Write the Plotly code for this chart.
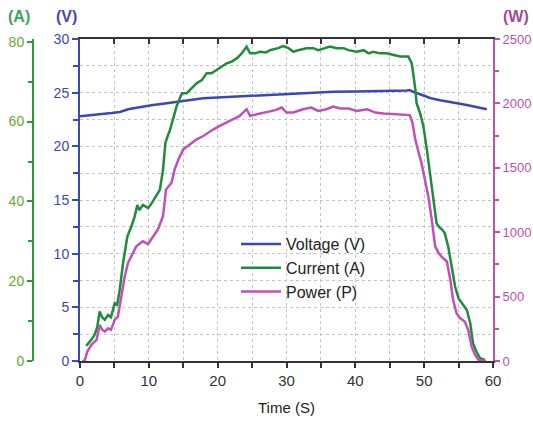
import plotly.graph_objects as go

# ---- data ----
t_voltage = [0, 1.8, 3.5, 4.6, 5.8, 7.0, 8.2, 9.4, 10.6, 11.8, 13.1, 14.0, 16.0, 17.9, 20.0,
             22.8, 25.0, 27.4, 29.5, 31.7, 34.0, 36.8, 40.0, 43.0, 45.0, 47.0, 47.5, 47.9,
             48.5, 49.4, 50.85, 52.3, 53.8, 55.0, 56.2, 57.6, 59.1]
voltage = [22.8, 22.9, 23.0, 23.1, 23.2, 23.45, 23.6, 23.75, 23.85, 23.95, 24.07, 24.15, 24.3,
           24.47, 24.55, 24.63, 24.7, 24.78, 24.85, 24.94, 25.0, 25.09, 25.1, 25.12, 25.13,
           25.15, 25.2, 25.25, 25.05, 24.85, 24.5, 24.3, 24.16, 24.0, 23.85, 23.65, 23.45]

t_current = [0.9, 1.3, 1.65, 2.1, 2.5, 2.86, 3.2, 3.6, 4.07, 4.5, 5.04, 5.4, 5.77, 6.25, 6.88,
             7.46, 7.94, 8.33, 8.6, 9.15, 9.88, 10.4, 11.1, 11.6, 12.06, 12.4, 12.7, 13.0, 13.5,
             14.0, 14.8, 15.5, 16.2, 16.95, 17.7, 18.4, 19.1, 19.9, 20.6, 21.3, 22.0, 22.8, 23.5,
             24.2, 24.7, 25.4, 26.15, 27.0, 27.6, 28.8, 29.5, 30.3, 31.0, 31.7, 32.9, 33.9, 34.6,
             35.6, 36.3, 37.3, 38.3, 39.0, 40.2, 41.2, 41.9, 42.6, 43.6, 44.5, 45.5, 46.5, 47.7,
             48.2, 48.7, 48.9, 49.4, 49.9, 50.4, 50.85, 51.3, 51.8, 52.3, 52.6, 53.0, 53.5, 54.0,
             54.5, 55.0, 55.7, 56.2, 56.7, 57.1, 57.6, 58.1, 58.8]
current = [3.8, 4.6, 5.3, 6.5, 8.5, 12.4, 11.0, 10.3, 11.5, 11.0, 14.5, 14.1, 17.8, 24.5, 31.2,
           33.7, 36.2, 39.1, 37.8, 39.1, 38.3, 39.5, 41.6, 42.9, 47.9, 54.6, 56.2, 57.5, 60.5,
           63.7, 67.1, 67.1, 68.3, 69.6, 70.4, 72.1, 72.1, 72.9, 73.8, 74.6, 75.0, 75.9, 77.1,
           78.8, 77.1, 77.1, 77.5, 77.3, 77.9, 78.4, 78.9, 78.4, 77.5, 77.9, 78.4, 78.4, 77.9,
           78.4, 78.8, 78.4, 78.4, 77.9, 77.5, 77.9, 77.1, 77.5, 77.1, 77.1, 76.7, 76.3, 76.3,
           74.6, 68.3, 64.6, 62.1, 58.7, 52.9, 47.0, 40.4, 34.5, 33.3, 33.0, 32.0, 28.6, 23.6,
           18.6, 15.7, 14.0, 12.8, 9.4, 4.4, 2.3, 0.7, 0.3]

t_power = [0.3, 0.6, 0.7, 1.06, 1.65, 2.4, 2.86, 3.2, 3.6, 4.07, 4.5, 5.04, 5.5, 6.0, 6.5, 6.97,
           7.7, 8.18, 8.6, 9.15, 9.88, 10.6, 11.3, 12.06, 12.5, 13.3, 13.75, 14.3, 15.0, 16.0,
           16.95, 17.9, 18.6, 19.4, 20.3, 21.3, 22.3, 23.2, 24.2, 24.7, 25.7, 26.6, 27.6, 28.5,
           29.3, 30.0, 31.0, 32.4, 33.6, 34.6, 35.8, 36.8, 37.8, 39.0, 40.2, 41.7, 42.9, 44.1,
           45.5, 47.0, 47.9, 48.3, 48.7, 49.2, 49.6, 50.1, 50.6, 51.1, 51.6, 52.1, 52.7, 53.3,
           53.8, 54.2, 54.7, 55.2, 55.9, 56.4, 56.9, 57.4, 57.9, 59.0]
power = [0, 0, 8, 72, 125, 164, 280, 245, 228, 254, 242, 319, 345, 501, 657, 761,
         839, 890, 908, 929, 908, 968, 1020, 1124, 1332, 1384, 1488, 1565, 1643, 1682,
         1721, 1747, 1773, 1799, 1825, 1851, 1877, 1903, 1955, 1903, 1916, 1929, 1938, 1950,
         1968, 1929, 1929, 1955, 1968, 1942, 1955, 1976, 1960, 1960, 1942, 1955, 1929, 1922,
         1916, 1909, 1909, 1851, 1721, 1617, 1540, 1410, 1280, 1098, 890, 839, 800, 773,
         631, 475, 371, 333, 306, 241, 111, 47, 8, 0]

x_ticks = [0, 10, 20, 30, 40, 50, 60]

# ---- styles ----
FONT = "Liberation Sans, Arial, sans-serif"
C_V = "#3a48b5"
C_A = "#1f8b3b"
C_P = "#c04fb8"
C_AXA = "#2e9a3c"
C_AXV = "#3a48b8"
C_AXW = "#b955b0"
GRID = "#c4c4c4"

fig = go.Figure()
fig.add_trace(go.Scatter(x=t_voltage, y=voltage, name="Voltage (V)", mode="lines",
                         line=dict(color=C_V, width=2.5), yaxis="y", legendgroup="v"))
fig.add_trace(go.Scatter(x=t_current, y=current, name="Current (A)", mode="lines",
                         line=dict(color=C_A, width=2.5), yaxis="y2", legendgroup="a"))
fig.add_trace(go.Scatter(x=t_power, y=power, name="Power (P)", mode="lines",
                         line=dict(color=C_P, width=2.5), yaxis="y3", legendgroup="p"))
# invisible trace to carry the top frame axis
fig.add_trace(go.Scatter(x=[0, 60], y=[None, None], xaxis="x2", yaxis="y",
                         showlegend=False, hoverinfo="skip"))

W, H = 533, 422
ml, mt = 20, 39
plot_right = 493
plot_bottom = 361
mr = W - plot_right
mb = H - plot_bottom
pw = W - ml - mr
ph = H - mt - mb
xdom0 = (80 - ml) / pw

def px_x(x):
    return (x - ml) / pw

def px_y(y):
    return (plot_bottom - y) / ph

fig.update_layout(
    width=W, height=H,
    margin=dict(l=ml, r=mr, t=mt, b=mb, autoexpand=False),
    paper_bgcolor="white", plot_bgcolor="white",
    font=dict(family=FONT, size=14, color="#333"),
    showlegend=True,
    legend=dict(x=px_x(236), y=px_y(227), xanchor="left", yanchor="top",
                bgcolor="rgba(0,0,0,0)", font=dict(size=16, color="#222"),
                tracegroupgap=6.5, traceorder="normal", itemwidth=40),
    xaxis=dict(domain=[xdom0, 1], range=[0, 60], anchor="y", automargin=False,
               tickvals=x_ticks, showline=True, linecolor="#333", linewidth=2,
               ticks="outside", ticklen=5, tickwidth=1.5, tickcolor="#333",
               tickfont=dict(size=15, color="#333"),
               showgrid=True, gridcolor=GRID, griddash="dot", gridwidth=1,
               minor=dict(dtick=5, ticks="outside", ticklen=5, tickwidth=1.5, tickcolor="#333",
                          showgrid=True, gridcolor=GRID, griddash="dot", gridwidth=1),
               zeroline=False,
               title=dict(text="Time (S)", font=dict(size=15, color="#222"), standoff=14)),
    xaxis2=dict(domain=[xdom0, 1], range=[0, 60], overlaying="x", side="top", anchor="y",
                automargin=False,
                showline=True, linecolor="#333", linewidth=2, ticks="inside", ticklen=5,
                tickwidth=1.5, tickcolor="#333", dtick=5, showticklabels=False,
                showgrid=False, zeroline=False),
    yaxis=dict(domain=[0, 1], range=[0, 30], anchor="x", side="left", automargin=False,
               dtick=5, showline=True, linecolor=C_AXV, linewidth=2,
               ticks="outside", ticklen=6, tickwidth=1.5, tickcolor=C_AXV,
               tickfont=dict(size=14, color="#3b46ad"),
               showgrid=True, gridcolor=GRID, griddash="dot", gridwidth=1,
               minor=dict(dtick=2.5, ticks="outside", ticklen=5, tickwidth=1.5, tickcolor=C_AXV,
                          showgrid=True, gridcolor=GRID, griddash="dot", gridwidth=1),
               zeroline=False),
    yaxis2=dict(range=[0, 80.7], overlaying="y", anchor="free", position=px_x(33), side="left",
                automargin=False,
                dtick=20, showline=True, linecolor=C_AXA, linewidth=2,
                ticks="outside", ticklen=5, tickwidth=1.5, tickcolor=C_AXA,
                tickfont=dict(size=14, color="#6aa82c"),
                minor=dict(dtick=10, ticks="outside", ticklen=4, tickwidth=1.5, tickcolor=C_AXA),
                showgrid=False, zeroline=False),
    yaxis3=dict(range=[0, 2500], overlaying="y", anchor="x", side="right", automargin=False,
                dtick=500, showline=True, linecolor=C_AXW, linewidth=2,
                ticks="outside", ticklen=5, tickwidth=1.5, tickcolor=C_AXW,
                tickfont=dict(size=13, color="#b852ae"),
                minor=dict(dtick=250, ticks="outside", ticklen=4, tickwidth=1.5, tickcolor=C_AXW),
                showgrid=False, zeroline=False),
    annotations=[
        dict(text="<b>(A)</b>", x=px_x(19), y=px_y(17), xref="paper", yref="paper",
             xanchor="center", yanchor="middle", showarrow=False, borderpad=0,
             font=dict(size=16, color="#3da35d")),
        dict(text="<b>(V)</b>", x=px_x(66), y=px_y(17), xref="paper", yref="paper",
             xanchor="center", yanchor="middle", showarrow=False, borderpad=0,
             font=dict(size=16, color="#4b45a8")),
        dict(text="<b>(W)</b>", x=px_x(516), y=px_y(17), xref="paper", yref="paper",
             xanchor="center", yanchor="middle", showarrow=False, borderpad=0,
             font=dict(size=16, color="#a8489c")),
    ],
)

fig.write_html("out.html", config={"displayModeBar": False},
               post_script="document.body.style.margin='0';")
